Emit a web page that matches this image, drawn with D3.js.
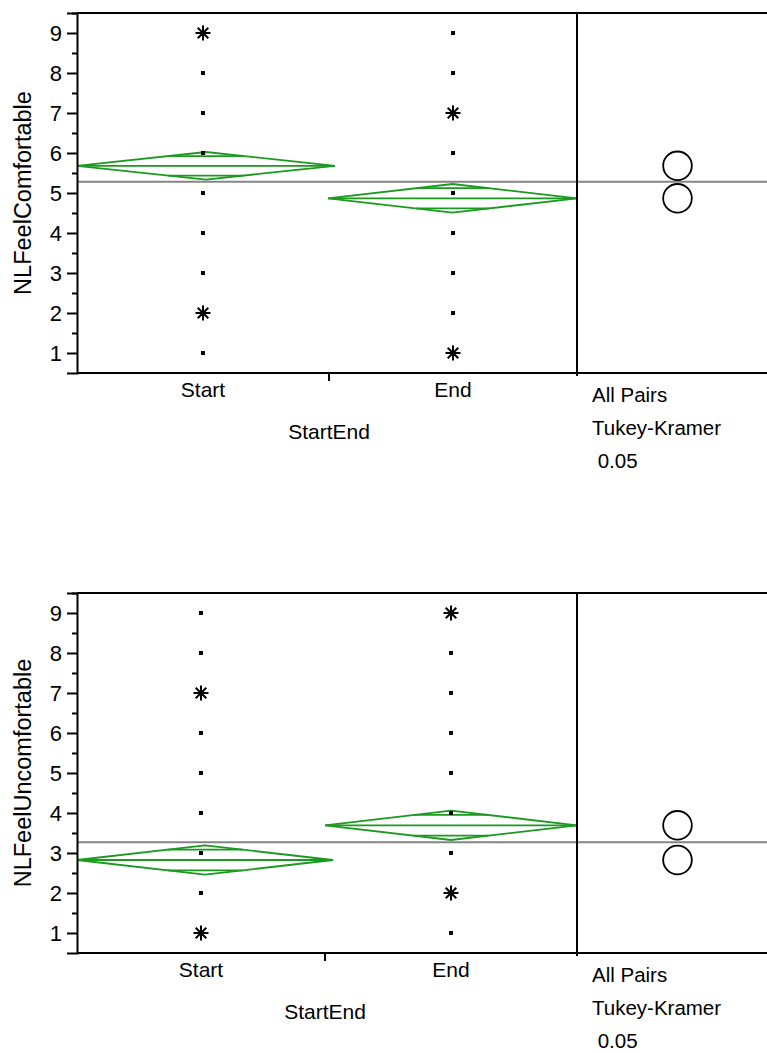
<!DOCTYPE html>
<html>
<head>
<meta charset="utf-8">
<script src="https://cdn.jsdelivr.net/npm/d3@7"></script>
<style>
  html, body { margin: 0; padding: 0; background: #fff; }
  svg { display: block; font-family: "Liberation Sans", Arial, sans-serif; }
</style>
</head>
<body>
<svg id="chart" width="767" height="1053"></svg>
<script>
// ---- data ----
const groups = ["Start", "End"];
const yTicks = [1, 2, 3, 4, 5, 6, 7, 8, 9];
const yMinorTicks = [1.5, 2.5, 3.5, 4.5, 5.5, 6.5, 7.5, 8.5, 9.5];
const compareLines = ["All Pairs", "Tukey-Kramer", " 0.05"];

// NLFeelComfortable
const comfortShare = [0.504, 0.496];            // share of the x range per group (by n)
const comfortDots = [[1, 3, 4, 5, 6, 7, 8], [2, 3, 4, 5, 6, 8, 9]];
const comfortStars = [[2, 9], [1, 7]];          // values with stacked observations
const comfortMeans = [5.68, 4.867];
const comfortCI = [0.345, 0.358];
const comfortGrandMean = 5.283;
const comfortCircleRadius = [0.358, 0.358];
const comfortDiamondSpan = [[0, 0.516], [0.502, 1]];

// NLFeelUncomfortable
const uncomfShare = [0.496, 0.504];
const uncomfDots = [[2, 3, 4, 5, 6, 8, 9], [1, 3, 4, 5, 6, 7, 8]];
const uncomfStars = [[1, 7], [2, 9]];
const uncomfMeans = [2.825, 3.692];
const uncomfCI = [0.365, 0.367];
const uncomfGrandMean = 3.2675;
const uncomfCircleRadius = [0.358, 0.358];
const uncomfDiamondSpan = [[0, 0.512], [0.496, 1]];

// ---- layout ----
const svg = d3.select("#chart");
const green = "#1b9a1f";
const left = 77, divider = 577, right = 778;
const plotH = 360;

function drawPanel(top, cfg) {
  const g = svg.append("g").attr("transform", `translate(0,${top})`);
  const y = d3.scaleLinear().domain([0.5, 9.5]).range([plotH, 0]);
  const x = d3.scaleLinear().domain([0, 1]).range([left, divider]);
  const cum = d3.cumsum(cfg.share);
  const bounds = [0, ...cum];
  const centers = groups.map((_, i) => (bounds[i] + bounds[i + 1]) / 2);

  // grand mean line across both frames
  g.append("line")
    .attr("x1", left).attr("x2", right)
    .attr("y1", y(cfg.grandMean)).attr("y2", y(cfg.grandMean))
    .attr("stroke", "#858585").attr("stroke-width", 2);

  // means diamonds with overlap marks
  groups.forEach((_, i) => {
    const [s0, s1] = cfg.span[i];
    const xl = x(s0), xr = x(s1), xc = (xl + xr) / 2;
    const m = cfg.means[i], ci = cfg.ci[i];
    const half = (xr - xl) / 2;
    const dg = g.append("g").attr("stroke", green).attr("stroke-width", 1.8).attr("fill", "none");
    dg.append("path").attr("d", d3.line()([
      [xl, y(m)], [xc, y(m + ci)], [xr, y(m)], [xc, y(m - ci)], [xl, y(m)]
    ]));
    dg.append("line").attr("x1", xl).attr("x2", xr).attr("y1", y(m)).attr("y2", y(m));
    const off = ci / Math.SQRT2;
    const w = half * (1 - off / ci);
    [m + off, m - off].forEach(v => {
      dg.append("line").attr("x1", xc - w).attr("x2", xc + w).attr("y1", y(v)).attr("y2", y(v));
    });
  });

  // single observations
  groups.forEach((_, i) => {
    g.selectAll(null).data(cfg.dots[i]).enter().append("rect")
      .attr("x", x(centers[i]) - 2).attr("y", d => y(d) - 2)
      .attr("width", 4).attr("height", 4).attr("fill", "#000");
  });

  // stacked observations as asterisks
  const star = d3.symbol().type({
    draw(ctx, size) {
      const r = Math.sqrt(size) / 2;
      const d = r * Math.SQRT1_2;
      ctx.moveTo(-r, 0); ctx.lineTo(r, 0);
      ctx.moveTo(0, -r); ctx.lineTo(0, r);
      ctx.moveTo(-d, -d); ctx.lineTo(d, d);
      ctx.moveTo(-d, d); ctx.lineTo(d, -d);
    }
  }).size(225);
  groups.forEach((_, i) => {
    g.selectAll(null).data(cfg.stars[i]).enter().append("path")
      .attr("transform", d => `translate(${x(centers[i])},${y(d)})`)
      .attr("d", star).attr("stroke", "#000").attr("stroke-width", 2).attr("fill", "none");
  });

  // comparison circles
  const cx = (divider + right) / 2;
  groups.forEach((_, i) => {
    g.append("circle")
      .attr("cx", cx).attr("cy", y(cfg.means[i]))
      .attr("r", y(0.5) - y(0.5 + cfg.radius[i]))
      .attr("fill", "none").attr("stroke", "#000").attr("stroke-width", 1.8);
  });

  // frames
  const frame = g.append("g").attr("stroke", "#000").attr("stroke-width", 2);
  frame.append("line").attr("x1", left).attr("x2", right).attr("y1", 0).attr("y2", 0);
  frame.append("line").attr("x1", left).attr("x2", right).attr("y1", plotH).attr("y2", plotH);
  frame.append("line").attr("x1", divider).attr("x2", divider).attr("y1", 0).attr("y2", plotH + 3);

  // y axis
  const yAxis = g.append("g").attr("transform", `translate(${left},0)`)
    .call(d3.axisLeft(y).tickValues(yTicks).tickSize(10).tickPadding(5).tickFormat(d3.format("d")));
  yAxis.select(".domain").attr("stroke-width", 2);
  yAxis.selectAll(".tick line").attr("stroke-width", 2);
  yAxis.selectAll(".tick text").attr("font-size", 22).attr("font-family", "Liberation Sans, Arial, sans-serif").attr("fill", "#000");
  g.append("g").attr("transform", `translate(${left},0)`)
    .call(d3.axisLeft(y).tickValues(yMinorTicks).tickSize(5).tickFormat(""))
    .call(a => a.select(".domain").remove())
    .selectAll(".tick line").attr("stroke-width", 2);

  // x axis: boundary tick between groups, group labels
  bounds.slice(1, -1).forEach(b => {
    g.append("line").attr("x1", x(b)).attr("x2", x(b)).attr("y1", plotH).attr("y2", plotH + 8)
      .attr("stroke", "#000").attr("stroke-width", 2);
  });
  g.selectAll(null).data(groups).enter().append("text")
    .attr("x", (d, i) => x(centers[i])).attr("y", plotH + 24)
    .attr("text-anchor", "middle").attr("font-size", 21).text(d => d);
  g.append("text").attr("x", x(bounds[1])).attr("y", plotH + 66)
    .attr("text-anchor", "middle").attr("font-size", 21).text("StartEnd");

  // y title
  g.append("text")
    .attr("transform", `translate(31,${plotH / 2}) rotate(-90)`)
    .attr("text-anchor", "middle").attr("font-size", 23.5).text(cfg.title);

  // comparison caption
  g.selectAll(null).data(compareLines).enter().append("text")
    .attr("x", 592).attr("y", (d, i) => plotH + 29 + i * 33)
    .attr("font-size", 20.5).attr("xml:space", "preserve").style("white-space", "pre").text(d => d);
}

drawPanel(13, {
  title: "NLFeelComfortable", share: comfortShare, dots: comfortDots, stars: comfortStars,
  means: comfortMeans, ci: comfortCI, grandMean: comfortGrandMean,
  radius: comfortCircleRadius, span: comfortDiamondSpan
});
drawPanel(593, {
  title: "NLFeelUncomfortable", share: uncomfShare, dots: uncomfDots, stars: uncomfStars,
  means: uncomfMeans, ci: uncomfCI, grandMean: uncomfGrandMean,
  radius: uncomfCircleRadius, span: uncomfDiamondSpan
});
</script>
</body>
</html>
